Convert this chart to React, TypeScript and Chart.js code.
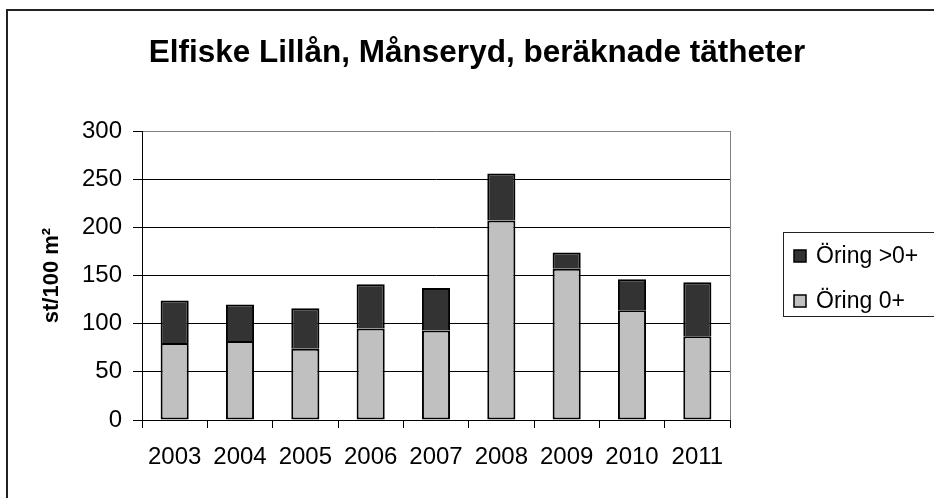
import React, { useEffect, useRef } from "react";
import { Chart, registerables } from "chart.js";

Chart.register(...registerables);

const categories = ["2003", "2004", "2005", "2006", "2007", "2008", "2009", "2010", "2011"];
const seriesYoung = [80, 82, 74, 95, 93, 207, 157, 114, 87]; // Öring 0+
const seriesOlder = [44, 38, 42, 46, 44, 49, 17, 32, 56]; // Öring >0+
const seriesLabels = ["Öring 0+", "Öring >0+"];
const seriesColors = ["#c0c0c0", "#333333"];
const yMin = 0;
const yMax = 300;
const yStep = 50;
const chartTitle = "Elfiske Lillån, Månseryd, beräknade tätheter";
const yAxisTitle = "st/100 m²";

const FONT = "'Liberation Sans', Arial, sans-serif";

const decorPlugin = {
  id: "decor",
  beforeDraw(chart: any) {
    const ctx = chart.ctx;
    ctx.save();
    ctx.fillStyle = "#ffffff";
    ctx.fillRect(0, 0, chart.width, chart.height);
    ctx.restore();
  },
  afterDraw(chart: any) {
    const ctx = chart.ctx;
    const ca = chart.chartArea;
    ctx.save();
    // plot-area right border (gray)
    ctx.strokeStyle = "#808080";
    ctx.lineWidth = 1;
    ctx.beginPath();
    ctx.moveTo(Math.round(ca.right) + 0.5, ca.top);
    ctx.lineTo(Math.round(ca.right) + 0.5, ca.bottom);
    ctx.stroke();

    // outer frame
    ctx.strokeStyle = "#222222";
    ctx.lineWidth = 2;
    ctx.strokeRect(7, 10, 1000, 1000);

    // title
    ctx.fillStyle = "#000000";
    ctx.font = `bold 31.5px ${FONT}`;
    ctx.textAlign = "center";
    ctx.textBaseline = "alphabetic";
    ctx.fillText(chartTitle, 477, 62);

    // legend box
    ctx.strokeStyle = "#222222";
    ctx.lineWidth = 1;
    ctx.strokeRect(783.5, 232.5, 300, 84);

    const ds = chart.data.datasets.slice().reverse();
    const rows = [256, 301];
    ctx.font = `23px ${FONT}`;
    ctx.textAlign = "left";
    ctx.textBaseline = "middle";
    ds.forEach((d: any, i: number) => {
      const cy = rows[i];
      ctx.fillStyle = d.backgroundColor;
      ctx.fillRect(794, cy - 6, 12, 12);
      ctx.strokeStyle = "#000000";
      ctx.lineWidth = 1.5;
      ctx.strokeRect(794, cy - 6, 12, 12);
      ctx.fillStyle = "#000000";
      ctx.fillText(d.label, 816, cy + 1);
    });
    ctx.restore();
  },
};

export default function App() {
  const ref = useRef<HTMLCanvasElement | null>(null);

  useEffect(() => {
    if (!ref.current) return;
    Chart.defaults.font.family = FONT;
    const chart = new Chart(ref.current, {
      type: "bar",
      data: {
        labels: categories,
        datasets: [
          {
            label: seriesLabels[0],
            data: seriesYoung,
            backgroundColor: seriesColors[0],
            borderColor: "#000000",
            borderWidth: 2,
            borderSkipped: false,
            barPercentage: 0.43,
            categoryPercentage: 1,
          },
          {
            label: seriesLabels[1],
            data: seriesOlder,
            backgroundColor: seriesColors[1],
            borderColor: "#000000",
            borderWidth: 2,
            borderSkipped: "start",
            barPercentage: 0.43,
            categoryPercentage: 1,
          },
        ],
      },
      options: {
        animation: false,
        responsive: false,
        devicePixelRatio: 1,
        layout: { padding: { left: 20, top: 131, right: 204, bottom: 28 } },
        plugins: {
          legend: { display: false },
          title: { display: false },
          tooltip: { enabled: false },
        },
        scales: {
          x: {
            stacked: true,
            offset: true,
            afterFit: (s: any) => {
              s.height = 50;
            },
            grid: {
              display: true,
              offset: true,
              drawOnChartArea: false,
              drawTicks: true,
              tickLength: 8,
              color: "#000000",
              tickColor: "#000000",
            },
            border: { display: true, color: "#000000", width: 1 },
            ticks: {
              color: "#000000",
              font: { size: 24, family: FONT },
              padding: 15,
              maxRotation: 0,
              autoSkip: false,
            },
          },
          y: {
            stacked: true,
            min: yMin,
            max: yMax,
            afterFit: (s: any) => {
              s.width = 122;
            },
            grid: {
              color: (c: any) => (c.tick && c.tick.value === yMax ? "#808080" : "#000000"),
              tickColor: "#000000",
              tickLength: 9,
              lineWidth: 1,
            },
            border: { display: true, color: "#000000", width: 1 },
            ticks: {
              stepSize: yStep,
              color: "#000000",
              font: { size: 24, family: FONT },
              padding: 11,
            },
            title: {
              display: true,
              text: yAxisTitle,
              color: "#000000",
              font: { size: 22, weight: "bold", family: FONT },
              padding: { top: 19, bottom: 0 },
            },
          },
        },
      },
      plugins: [decorPlugin],
    });
    return () => chart.destroy();
  }, []);

  return (
    <div style={{ position: "absolute", left: 0, top: 0, width: 934, height: 498 }}>
      <canvas ref={ref} width={934} height={498} style={{ width: 934, height: 498, display: "block" }} />
    </div>
  );
}
